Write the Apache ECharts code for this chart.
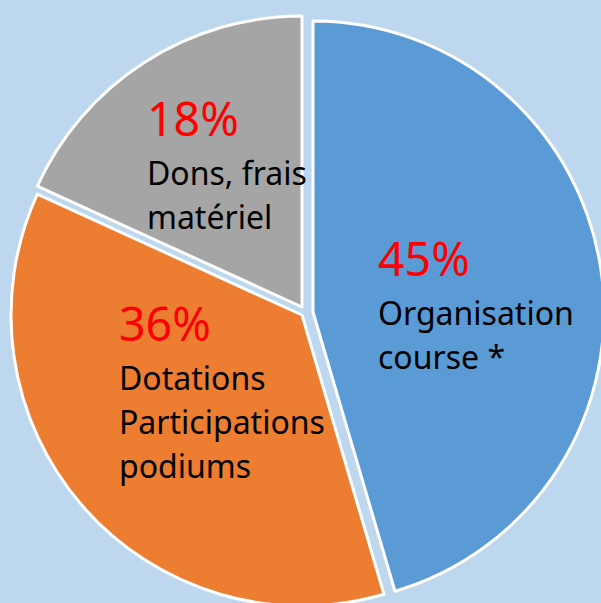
<!DOCTYPE html>
<html>
<head>
<meta charset="utf-8">
<script src="https://cdn.jsdelivr.net/npm/echarts@6/dist/echarts.min.js"></script>
<style>
html,body{margin:0;padding:0;background:#BDD7EE;}
#chart{width:601px;height:603px;}
</style>
</head>
<body>
<div id="chart"></div>
<script>
// ---- data ----
const categories = ['Organisation course *', 'Dotations Participations podiums', 'Dons, frais matériel'];
const values = [45, 36, 18];
const pctLabels = ['45%', '36%', '18%'];
const labelLines = [['Organisation', 'course *'], ['Dotations', 'Participations', 'podiums'], ['Dons, frais', 'matériel']];

// ---- styling / layout (kept separate from data) ----
const colors = ['#5B9BD5', '#ED7D31', '#A5A5A5'];
const sliceCenters = [[313, 312], [302, 315], [302, 307]]; // exploded slice positions
const pieRadius = 291;
const labelPos = [[378, 226], [119, 291], [147, 86]];

const chart = echarts.init(document.getElementById('chart'), null, {renderer: 'svg'});

const series = values.map(function (_, i) {
  return {
    type: 'pie',
    center: sliceCenters[i],
    radius: pieRadius,
    startAngle: 90,
    clockwise: true,
    silent: true,
    animation: false,
    avoidLabelOverlap: false,
    labelLine: {show: false},
    label: {
      position: 'inside',
      align: 'left',
      formatter: function (p) {
        const j = p.dataIndex;
        return '{p|' + pctLabels[j] + '}\n' + labelLines[j].map(function (t) { return '{t|' + t + '}'; }).join('\n');
      },
      rich: {
        p: {fontFamily: 'Noto Sans', fontSize: 46.5, color: '#FF0000', lineHeight: 64, align: 'left'},
        t: {fontFamily: 'Noto Sans', fontSize: 32, color: '#000000', lineHeight: 44, align: 'left'}
      }
    },
    labelLayout: function () {
      return {x: labelPos[i][0], y: labelPos[i][1], align: 'left', verticalAlign: 'top'};
    },
    data: values.map(function (v, j) {
      return {
        name: categories[j],
        value: v,
        itemStyle: j === i
          ? {color: colors[j], borderColor: '#FFFFFF', borderWidth: 3}
          : {color: 'rgba(0,0,0,0)', borderWidth: 0},
        label: {show: j === i}
      };
    })
  };
});

chart.setOption({
  backgroundColor: '#BDD7EE',
  animation: false,
  series: series
});
</script>
</body>
</html>
